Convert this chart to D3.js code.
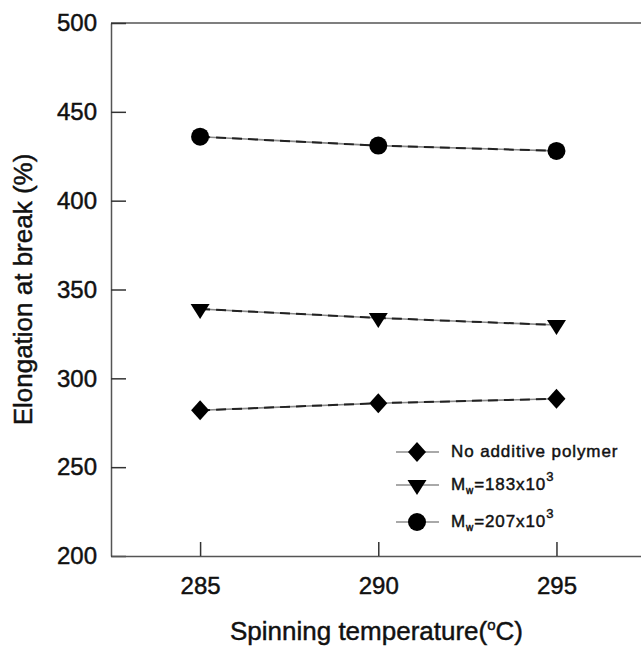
<!DOCTYPE html>
<html>
<head>
<meta charset="utf-8">
<script src="https://cdn.jsdelivr.net/npm/d3@7"></script>
<style>
    html, body { margin: 0; padding: 0; background: #fff; }
    svg text { font-family: "Liberation Sans", Arial, Helvetica, sans-serif; fill: #111; stroke: #111; stroke-width: 0.45px; }
</style>
</head>
<body>
<div id="chart"></div>
<script>
    "use strict";

    var temps = [285, 290, 295];
    var noAdditive = [282, 286, 288.5];
    var mw183 = [339, 334, 330];
    var mw207 = [436, 431, 428];
    var yTicks = [200, 250, 300, 350, 400, 450, 500];

    var width = 641,
        height = 647;

    var svg = d3.select("#chart").append("svg")
        .attr("width", width)
        .attr("height", height);

    var x = d3.scaleLinear().domain([282.5, 297.4]).range([111, 642]),
        y = d3.scaleLinear().domain([200, 500]).range([556, 23]);

    var shapes = {
        diamond: "M0,-10L9,0L0,10L-9,0Z",
        triangle: "M-9.5,-5L9.5,-5L0,10Z",
        circle: "M9,0A9,9 0 1,1 -9,0A9,9 0 1,1 9,0Z"
    };

    var series = [
        {values: noAdditive, shape: "diamond"},
        {values: mw183, shape: "triangle"},
        {values: mw207, shape: "circle"}
    ];

    // frame: top, left and bottom, no right side
    svg.append("line")
        .attr("x1", x.range()[0]).attr("x2", x.range()[1])
        .attr("y1", y(500)).attr("y2", y(500))
        .attr("stroke", "#555").attr("stroke-width", 1.5);

    var yAxis = svg.append("g")
        .attr("transform", "translate(" + x.range()[0] + ",0)")
        .call(d3.axisLeft(y).tickValues(yTicks).tickSizeInner(-15).tickSizeOuter(0).tickPadding(14));

    var xAxis = svg.append("g")
        .attr("transform", "translate(0," + y(200) + ")")
        .call(d3.axisBottom(x).tickValues(temps).tickSizeInner(-14).tickSizeOuter(0).tickPadding(21));

    [yAxis, xAxis].forEach(function (ax) {
        ax.select(".domain").attr("stroke", "#555").attr("stroke-width", 1.5);
        ax.selectAll(".tick line").attr("stroke", "#333").attr("stroke-width", 1.5);
        ax.selectAll(".tick text")
            .style("font-size", "24px")
            .attr("fill", "#111");
    });

    // axis titles
    svg.append("text")
        .attr("transform", "translate(32," + ((y(500) + y(200)) / 2) + ")rotate(-90)")
        .attr("text-anchor", "middle")
        .style("font-size", "26px")
        .text("Elongation at break (%)");

    var xt = svg.append("text")
        .attr("x", (x.range()[0] + x.range()[1]) / 2)
        .attr("y", 640)
        .attr("text-anchor", "middle")
        .style("font-size", "26px");
    xt.append("tspan").text("Spinning temperature(");
    xt.append("tspan").attr("dy", -10).style("font-size", "15px").text("o");
    xt.append("tspan").attr("dy", 10).text("C)");

    var line = d3.line()
        .x(function (d, i) { return x(temps[i]); })
        .y(function (d) { return y(d); });

    var g = svg.selectAll(".series")
        .data(series)
        .enter().append("g")
        .attr("class", "series");

    g.append("path")
        .attr("d", function (d) { return line(d.values); })
        .attr("fill", "none")
        .attr("stroke", "#888")
        .attr("stroke-width", 1.6);

    g.append("path")
        .attr("d", function (d) { return line(d.values); })
        .attr("fill", "none")
        .attr("stroke", "#222")
        .attr("stroke-width", 2)
        .attr("stroke-dasharray", "10,6");

    g.selectAll(".marker")
        .data(function (d) {
            return d.values.map(function (v, i) { return {v: v, t: temps[i], shape: d.shape}; });
        })
        .enter().append("path")
        .attr("class", "marker")
        .attr("transform", function (d) { return "translate(" + x(d.t) + "," + y(d.v) + ")"; })
        .attr("d", function (d) { return shapes[d.shape]; })
        .attr("fill", "#000");

    // legend
    var legendRows = [452, 485, 522];
    var legend = svg.selectAll(".legend")
        .data(series)
        .enter().append("g")
        .attr("class", "legend")
        .attr("transform", function (d, i) { return "translate(0," + legendRows[i] + ")"; });

    legend.append("line")
        .attr("x1", 396).attr("x2", 439)
        .attr("stroke", "#555").attr("stroke-width", 1.2);

    legend.append("path")
        .attr("transform", "translate(417,0)")
        .attr("d", function (d) { return shapes[d.shape]; })
        .attr("fill", "#000");

    var lt = legend.append("text")
        .attr("x", 451)
        .attr("y", 5)
        .style("font-size", "17px")
        .style("letter-spacing", "0.9px");

    lt.each(function (d, i) {
        var t = d3.select(this);
        if (i === 0) {
            t.text("No additive polymer");
            return;
        }
        t.append("tspan").text("M");
        t.append("tspan").attr("dy", 4).style("font-size", "10px").text("w");
        t.append("tspan").attr("dy", -4).text(i === 1 ? "=183x10" : "=207x10");
        t.append("tspan").attr("dy", -9).style("font-size", "13px").text("3");
    });
</script>
</body>
</html>
